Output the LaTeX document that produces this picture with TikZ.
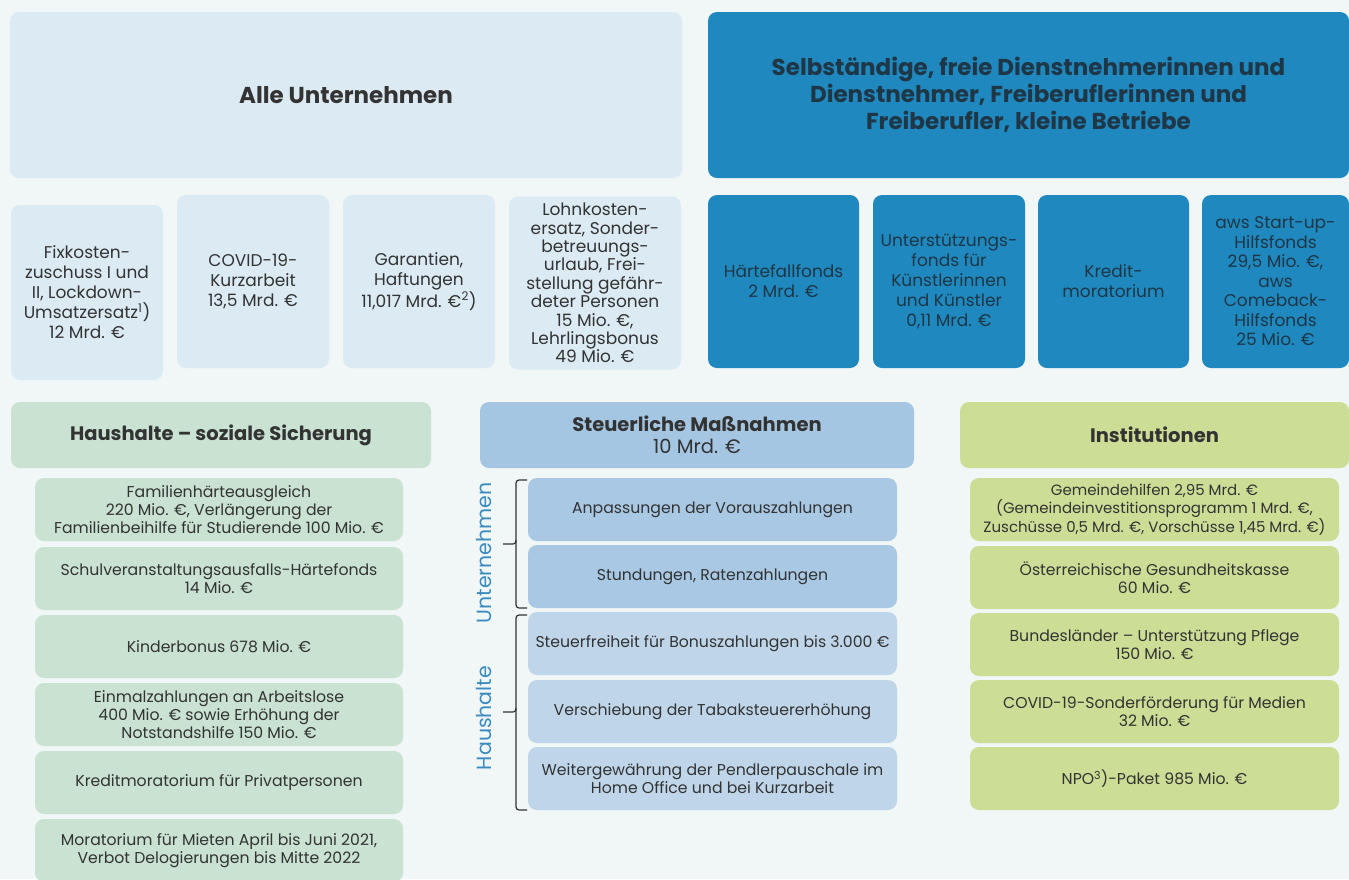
\documentclass[tikz,border=0pt]{standalone}
\usepackage{fontspec}
\setmainfont{Poppins}
\definecolor{bg}{HTML}{F1F6F7}
\definecolor{lb}{HTML}{DCEAF3}
\definecolor{db}{HTML}{1F88BE}
\definecolor{txt}{HTML}{333333}
\definecolor{dtxt}{HTML}{1E3645}
\definecolor{gr}{HTML}{C9E2D1}
\definecolor{sh}{HTML}{A4C6E2}
\definecolor{su}{HTML}{A8C8E3}
\definecolor{sl}{HTML}{BFD6EA}
\definecolor{ins}{HTML}{CCDD96}
\definecolor{lbl}{HTML}{3A8CC0}
\begin{document}
\begin{tikzpicture}[x=1pt,y=-1pt,
  bx/.style={rounded corners=9pt, align=center, text=txt, inner sep=0pt},
  big/.style={font=\fontsize{23}{27}\selectfont\bfseries},
  mid/.style={font=\fontsize{17}{20}\selectfont},
  sm/.style={font=\fontsize{15.7}{18}\selectfont},
  hd/.style={font=\fontsize{19.5}{22}\selectfont},
  r2/.style={bx, mid, minimum width=152pt, minimum height=173pt},
  lc/.style={bx, sm, fill=gr, minimum width=368pt, minimum height=63pt},
  mc/.style={bx, sm, minimum width=369pt, minimum height=63pt},
  rc/.style={bx, sm, fill=ins, minimum width=369pt, minimum height=63pt},
  hh/.style={bx, hd, minimum height=66pt},
  brace/.style={draw=txt, line width=1.2pt, rounded corners=3pt},
  vlabel/.style={text=lbl, rotate=90, font=\fontsize{20.5}{24}\selectfont}
]
\useasboundingbox (0,0) rectangle (1349,879);
\clip (0,0) rectangle (1349,879);
\fill[bg] (0,0) rectangle (1349,879);

% top headers
\node[bx, big, fill=lb, minimum width=672pt, minimum height=166pt] (alle) at (346,95) {Alle Unternehmen};
\node[bx, big, fill=db, text=dtxt, minimum width=641pt, minimum height=166pt] (selb) at (1028.5,95)
  {Selbständige, freie Dienstnehmerinnen und\\Dienstnehmer, Freiberuflerinnen und\\Freiberufler, kleine Betriebe};

% row 2 light
\node[r2, fill=lb, minimum height=175pt] (fix) at (87,292.5) {Fixkosten-\\zuschuss I und\\II, Lockdown-\\Umsatzersatz\textsuperscript{1})\\12 Mrd. €};
\node[r2, fill=lb] (kurz) at (253,281.5) {COVID-19-\\Kurzarbeit\\13,5 Mrd. €};
\node[r2, fill=lb] (gar) at (419,281.5) {Garantien,\\Haftungen\\11,017 Mrd. €\textsuperscript{2})};
\node[r2, fill=lb, minimum width=172pt, font=\fontsize{17}{18.4}\selectfont] (lohn) at (595,283) {Lohnkosten-\\ersatz, Sonder-\\betreuungs-\\urlaub, Frei-\\stellung gefähr-\\deter Personen\\15 Mio. €,\\Lehrlingsbonus\\49 Mio. €};

% row 2 dark
\node[r2, fill=db, text=dtxt, minimum width=151pt] (haert) at (783.5,281.5) {Härtefallfonds\\2 Mrd. €};
\node[r2, fill=db, text=dtxt] (kuenst) at (949,281.5) {Unterstützungs-\\fonds für\\Künstlerinnen\\und Künstler\\0,11 Mrd. €};
\node[r2, fill=db, text=dtxt, minimum width=151pt] (kred) at (1113.5,281.5) {Kredit-\\moratorium};
\node[r2, fill=db, text=dtxt, minimum width=147pt, font=\fontsize{17}{19.5}\selectfont] (aws) at (1275.5,281.5) {aws Start-up-\\Hilfsfonds\\29,5 Mio. €,\\aws\\Comeback-\\Hilfsfonds\\25 Mio. €};

% third row headers
\node[hh, fill=gr, minimum width=420pt] (haus) at (221,435) {\bfseries Haushalte – soziale Sicherung};
\node[hh, fill=sh, minimum width=434pt] (steu) at (697,435) {\bfseries Steuerliche Maßnahmen\\10 Mrd. €};
\node[hh, fill=ins, minimum width=389pt] (inst) at (1154.5,435) {\bfseries Institutionen};

% left column
\node[lc] (l1) at (219,509.5) {Familienhärteausgleich\\220 Mio. €, Verlängerung der\\Familienbeihilfe für Studierende 100 Mio. €};
\node[lc] (l2) at (219,578.5) {Schulveranstaltungsausfalls-Härtefonds\\14 Mio. €};
\node[lc] (l3) at (219,646.5) {Kinderbonus 678 Mio. €};
\node[lc] (l4) at (219,714.5) {Einmalzahlungen an Arbeitslose\\400 Mio. € sowie Erhöhung der\\Notstandshilfe 150 Mio. €};
\node[lc] (l5) at (219,782.5) {Kreditmoratorium für Privatpersonen};
\node[lc] (l6) at (219,850.5) {Moratorium für Mieten April bis Juni 2021,\\Verbot Delogierungen bis Mitte 2022};

% middle column
\node[mc, fill=su] (m1) at (712.5,509.5) {Anpassungen der Vorauszahlungen};
\node[mc, fill=su] (m2) at (712.5,576.5) {Stundungen, Ratenzahlungen};
\node[mc, fill=sl] (m3) at (712.5,643.5) {Steuerfreiheit für Bonuszahlungen bis 3.000 €};
\node[mc, fill=sl] (m4) at (712.5,711.5) {Verschiebung der Tabaksteuererhöhung};
\node[mc, fill=sl] (m5) at (712.5,778.5) {Weitergewährung der Pendlerpauschale im\\Home Office und bei Kurzarbeit};

% right column
\node[rc, font=\fontsize{15}{18}\selectfont] (r1) at (1154.5,509.5) {Gemeindehilfen 2,95 Mrd. €\\(Gemeindeinvestitionsprogramm 1 Mrd. €,\\Zuschüsse 0,5 Mrd. €, Vorschüsse 1,45 Mrd. €)};
\node[rc] (r2) at (1154.5,577.5) {Österreichische Gesundheitskasse\\60 Mio. €};
\node[rc] (r3) at (1154.5,644.5) {Bundesländer – Unterstützung Pflege\\150 Mio. €};
\node[rc] (r4) at (1154.5,711.5) {COVID-19-Sonderförderung für Medien\\32 Mio. €};
\node[rc] (r5) at (1154.5,778.5) {NPO\textsuperscript{3})-Paket 985 Mio. €};

% braces
\coordinate (ua) at (527,480);
\coordinate (ub) at (527,608);
\coordinate (ut) at (503,544);
\draw[brace] (ua) -- (516,480) -- (516,544) -- (ut);
\draw[brace] (516,540) -- (516,608) -- (ub);
\coordinate (ha) at (527,615);
\coordinate (hb) at (527,810);
\coordinate (ht) at (503,712);
\draw[brace] (ha) -- (516,615) -- (516,712) -- (ht);
\draw[brace] (516,708) -- (516,810) -- (hb);
\node[vlabel] (unt) at (484,553) {Unternehmen};
\node[vlabel] (hsh) at (484,718) {Haushalte};
\end{tikzpicture}
\end{document}
